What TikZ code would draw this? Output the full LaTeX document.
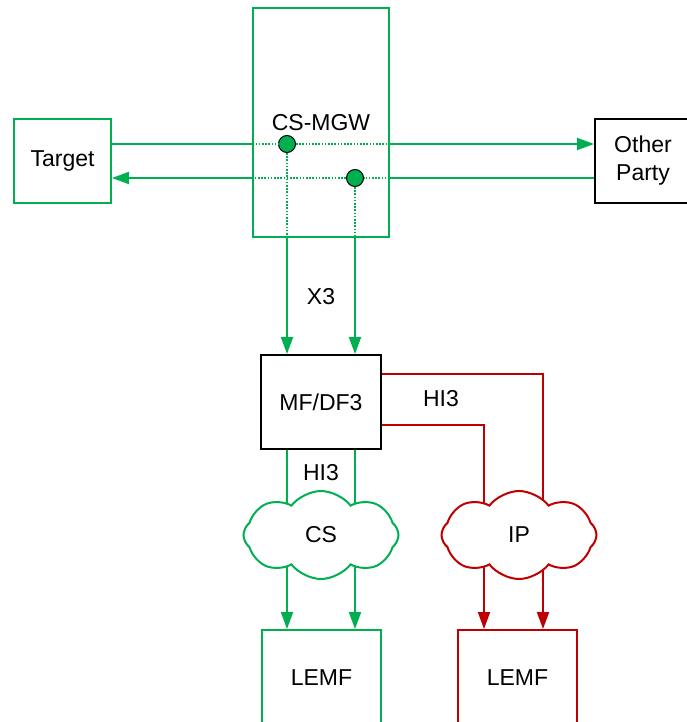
\documentclass[tikz,border=0pt]{standalone}
\usepackage{fontspec}
\setmainfont{Liberation Sans}
\usetikzlibrary{shapes.symbols,arrows.meta,backgrounds}
\definecolor{lgreen}{RGB}{0,176,80}
\definecolor{lred}{RGB}{192,0,0}
\begin{document}
\begin{tikzpicture}[x=1pt,y=-1pt,
  every node/.style={font=\fontsize{23}{28}\selectfont, inner sep=0pt},
  gbox/.style={draw=lgreen, line width=2pt, rectangle},
  rbox/.style={draw=lred, line width=2pt, rectangle},
  kbox/.style={draw=black, line width=2pt, rectangle, fill=white},
  thinbox/.style={draw=lgreen, line width=1.3pt, rectangle},
  gline/.style={draw=lgreen, line width=2pt},
  rline/.style={draw=lred, line width=2pt},
  gdot/.style={draw=lgreen, line width=1.3pt, dash pattern=on 1.6pt off 1.6pt},
  tip/.style={-{Triangle[length=17pt,width=12pt]}},
  dotnode/.style={circle, draw=black, line width=1pt, fill=lgreen, minimum size=17pt},
  cloudnode/.style={cloud, cloud puffs=8, cloud puff arc=105, aspect=1.8, line width=2pt, fill=white, minimum width=155pt, minimum height=88pt}
]
\useasboundingbox (0,0) rectangle (686,722);
% boxes
\node[thinbox, minimum width=136pt, minimum height=229pt] (mgw) at (321,122.5) {CS-MGW};
\node[gbox, minimum width=97pt, minimum height=84pt] (target) at (62.5,161) {Target};
\node[kbox, minimum width=96pt, minimum height=84pt, align=center] (other) at (643,161) {Other\\Party};
\node[kbox, minimum width=120pt, minimum height=94pt] (mf) at (321,402) {MF/DF3};
\node[cloudnode, draw=lgreen] (cs) at (321,535) {CS};
\node[cloudnode, draw=lred] (ip) at (519,535) {IP};
\node[gbox, minimum width=119pt, minimum height=96pt] (lemf1) at (321.5,678) {LEMF};
\node[rbox, minimum width=119pt, minimum height=96pt] (lemf2) at (517.5,678) {LEMF};
% dots
\node[dotnode] (d1) at (287,144) {};
\node[dotnode] (d2) at (355,178) {};
% labels
\node (x3) at (321,297) {X3};
\node (hi3a) at (321,473) {HI3};
\node (hi3b) at (441,399) {HI3};
% coordinates
\coordinate (t1) at (target.east |- d1);
\coordinate (t2) at (target.east |- d2);
\coordinate (m1w) at (mgw.west |- d1);
\coordinate (m1e) at (mgw.east |- d1);
\coordinate (m2w) at (mgw.west |- d2);
\coordinate (m2e) at (mgw.east |- d2);
\coordinate (o1) at (other.west |- d1);
\coordinate (o2) at (other.west |- d2);
\coordinate (b1) at (mgw.south -| d1);
\coordinate (b2) at (mgw.south -| d2);
\coordinate (r1) at ([yshift=28pt]mf.east);
\coordinate (r2) at ([yshift=-23pt]mf.east);
\coordinate (r1c) at (543,374);
\coordinate (r2c) at (484,425);
% horizontal lines
\draw[gline] (t1) -- (m1w);
\draw[gdot] (m1w) -- (d1) -- (m1e);
\draw[gline,tip] (m1e) -- (o1);
\draw[gline,tip] (m2w) -- (t2);
\draw[gdot] (m2e) -- (d2) -- (m2w);
\draw[gline] (o2) -- (m2e);
% verticals to MF
\draw[gdot] (d1) -- (b1);
\draw[gdot] (d2) -- (b2);
\draw[gline,tip] (b1) -- (mf.north -| d1);
\draw[gline,tip] (b2) -- (mf.north -| d2);
\begin{scope}[on background layer]
\draw[gline] (mf.south -| d1) -- (cs.center -| d1);
\draw[gline] (mf.south -| d2) -- (cs.center -| d2);
\draw[rline] (r1) -- (r1c) -- (ip.center -| r1c);
\draw[rline] (r2) -- (r2c) -- (ip.center -| r2c);
\draw[gline,tip] (cs.center -| d1) -- (lemf1.north -| d1);
\draw[gline,tip] (cs.center -| d2) -- (lemf1.north -| d2);
\draw[rline,tip] (ip.center -| r2c) -- (lemf2.north -| r2c);
\draw[rline,tip] (ip.center -| r1c) -- (lemf2.north -| r1c);
\end{scope}
\end{tikzpicture}
\end{document}
